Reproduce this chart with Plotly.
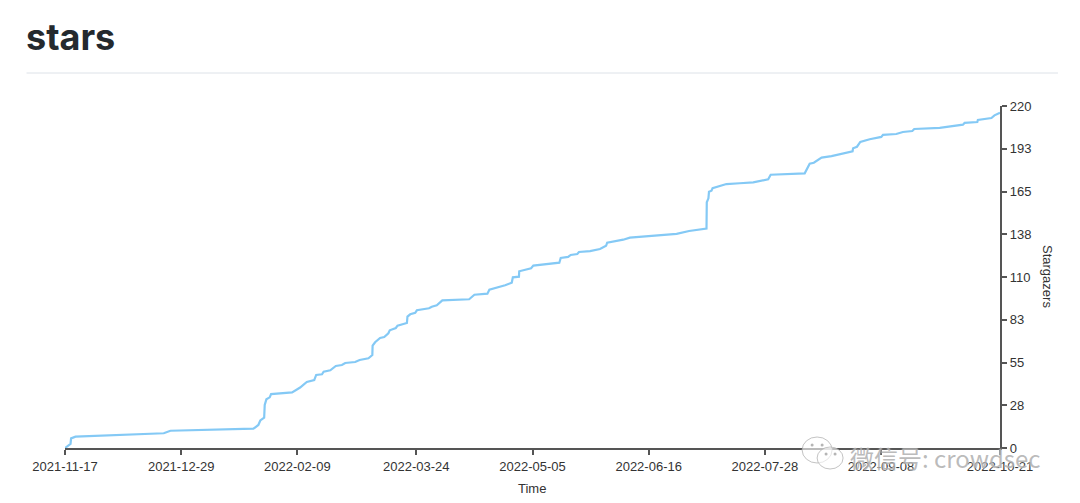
import pandas as pd
import plotly.graph_objects as go

# Star history, days since first star and cumulative stargazers
start_date = "2021-11-17"
days = [0, 2.0, 2.2, 3.8, 35.7, 38.1, 68.1, 69.9, 70.6, 72.0, 72.2, 72.8, 74.0, 74.5, 82.1, 85, 87.4, 90.1,
        90.8, 92.9, 93.5, 95.9, 97.9, 100.1, 101.3, 104.9, 106.5, 109.7, 111.1, 111.2, 112.1, 113.9, 115.4,
        116.9, 117.4, 119.6, 120.2, 123.6, 123.8, 124.8, 126.6, 127.2, 131.6, 132.6, 134.4, 136.4, 146.1,
        148, 152.7, 153.4, 159.1, 161.5, 161.9, 164.1, 164.2, 168.5, 169.3, 178.7, 179.2, 181.9, 182.8,
        185.2, 185.8, 189.8, 193.4, 195.6, 196, 201.8, 204.2, 221.1, 225.6, 231.9, 232, 232.6, 232.8, 233.7,
        234.1, 236.7, 239.1, 243.9, 248.8, 254.2, 255.1, 267.4, 268.4, 269.2, 270.7, 273.5, 277.1, 284.7,
        284.9, 286.3, 287.5, 290.9, 295.1, 295.7, 300.5, 302.9, 306.3, 307, 316.2, 324.6, 325.2, 329.8, 330,
        334.9, 336, 338]
stars = [0, 2.6, 6.2, 7.3, 9.5, 11.1, 12.4, 14.8, 17.7, 19.5, 27.7, 31.3, 32.6, 34.7, 35.8, 38.9, 42.5, 43.7,
         47, 47.4, 49.1, 50, 52.8, 53.4, 54.7, 55.3, 56.6, 57.7, 59.8, 65.8, 68, 70.8, 71.4,
         73.8, 75.7, 77.2, 78.7, 80.4, 84.5, 86, 87, 88.6, 89.9, 90.9, 91.8, 95, 95.7,
         98.6, 99.3, 101.8, 104.7, 106.3, 109.8, 110.2, 113.7, 115.6, 117.3, 119.2, 122.2, 122.9, 124.2,
         124.8, 126.1, 126.7, 128, 130.1, 132.1, 134, 135.3, 137.7, 139.6, 141.1, 158.1, 160.6, 164.9, 165.5,
         167.1, 168.7, 169.8, 170.3, 170.9, 172.9, 175.8, 176.7, 179.9, 182.9, 183.5, 186.8, 187.8, 190.9,
         192.8, 193.8, 196.9, 198.6, 200.1, 201.4, 202, 203.3, 203.9, 205.2, 205.9, 208, 209.1, 209.7, 211,
         212.3, 214, 215.7]

x_ticks = ["2021-11-17", "2021-12-29", "2022-02-09", "2022-03-24", "2022-05-05",
           "2022-06-16", "2022-07-28", "2022-09-08", "2022-10-21"]
y_ticks = [0, 27.5, 55, 82.5, 110, 137.5, 165, 192.5, 220]
y_labels = ["0", "28", "55", "83", "110", "138", "165", "193", "220"]

dates = pd.to_datetime(start_date) + pd.to_timedelta(days, unit="D")

axis_color = "#555555"
text_color = "#333333"
font_name = "Liberation Sans"

fig = go.Figure()
fig.add_trace(go.Scatter(
    x=dates, y=stars, mode="lines",
    line=dict(color="#84c9f5", width=2.2),
    cliponaxis=False, showlegend=False,
))

fig.update_layout(
    width=1080, height=503, autosize=False,
    margin=dict(l=64.5, r=80, t=106, b=55),
    paper_bgcolor="white", plot_bgcolor="white",
    font=dict(family=font_name, size=13, color=text_color),
    xaxis=dict(
        type="date", range=[x_ticks[0], x_ticks[-1]], automargin=False,
        tickmode="array", tickvals=x_ticks, ticktext=x_ticks,
        showgrid=False, zeroline=False, showline=True,
        linecolor=axis_color, linewidth=2.2,
        ticks="outside", ticklen=5, tickwidth=1.5, tickcolor=axis_color,
        tickangle=0,
    ),
    yaxis=dict(
        side="right", range=[0, 220], automargin=False,
        tickmode="array", tickvals=y_ticks, ticktext=y_labels,
        showgrid=False, zeroline=False, showline=True,
        linecolor=axis_color, linewidth=2.2,
        ticks="outside", ticklen=5, tickwidth=1.5, tickcolor=axis_color,
    ),
)


def px_x(p):
    return (p - 64.5) / 935.5


def px_y(p):
    return (448 - p) / 342


# axis titles as annotations, Stargazers reads top to bottom
fig.add_annotation(text="Time", xref="paper", yref="paper", x=px_x(532), y=px_y(488),
                   xanchor="center", yanchor="middle", showarrow=False, font=dict(size=13))
fig.add_annotation(text="Stargazers", xref="paper", yref="paper", x=px_x(1048), y=px_y(277),
                   xanchor="center", yanchor="middle", textangle=90, showarrow=False, font=dict(size=13))

# page heading and the rule under it
fig.add_annotation(
    text="<b>stars</b>", xref="paper", yref="paper", xanchor="left", yanchor="middle",
    x=px_x(23), y=px_y(37), showarrow=False,
    font=dict(family="Inter", size=36, color="#24292e"),
)
fig.add_shape(type="line", xref="paper", yref="paper",
              x0=px_x(26), x1=px_x(1058), y0=px_y(73), y1=px_y(73),
              line=dict(color="#dde2e8", width=1))

# WeChat watermark over the bottom right corner
for cx, cy, rx, ry in [(817, 450, 15, 13), (830, 458, 13, 11)]:
    fig.add_shape(type="circle", xref="paper", yref="paper",
                  x0=px_x(cx - rx), x1=px_x(cx + rx), y0=px_y(cy - ry), y1=px_y(cy + ry),
                  line=dict(color="rgba(170,170,170,0.7)", width=1),
                  fillcolor="rgba(255,255,255,0.6)")
for cx, cy in [(812, 445), (822, 445), (826, 454), (835, 454)]:
    fig.add_shape(type="circle", xref="paper", yref="paper",
                  x0=px_x(cx - 1.5), x1=px_x(cx + 1.5), y0=px_y(cy - 1.5), y1=px_y(cy + 1.5),
                  line=dict(width=0), fillcolor="rgba(150,150,150,0.7)")
fig.add_annotation(
    text="微信号: crowdsec", xref="paper", yref="paper", xanchor="left", yanchor="middle",
    x=px_x(848), y=px_y(457), showarrow=False,
    font=dict(family="Noto Sans CJK SC", size=24, color="rgba(165,165,165,0.75)",
              shadow="0 0 2px white"),
)

fig.write_html("out.html", config={"displayModeBar": False},
               post_script="document.body.style.margin='0';")
